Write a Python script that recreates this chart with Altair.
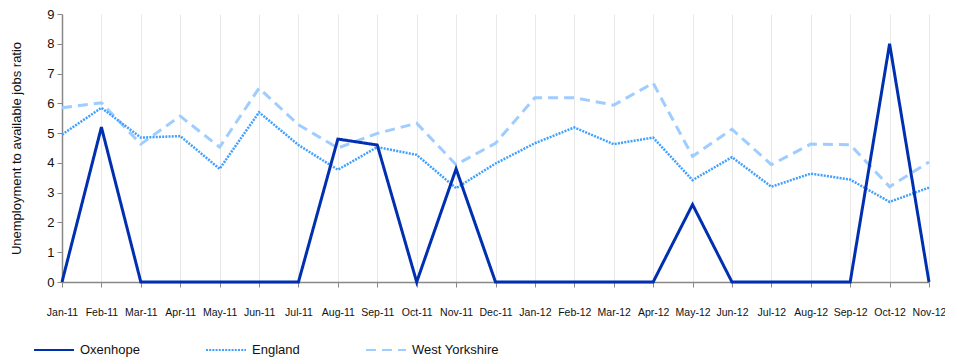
import altair as alt
import pandas as pd

months = ["Jan-11", "Feb-11", "Mar-11", "Apr-11", "May-11", "Jun-11", "Jul-11", "Aug-11",
          "Sep-11", "Oct-11", "Nov-11", "Dec-11", "Jan-12", "Feb-12", "Mar-12", "Apr-12",
          "May-12", "Jun-12", "Jul-12", "Aug-12", "Sep-12", "Oct-12", "Nov-12"]
oxenhope = [0, 5.2, 0, 0, 0, 0, 0, 4.8, 4.6, 0, 3.8, 0, 0, 0, 0, 0, 2.6, 0, 0, 0, 0, 8.0, 0]
england = [4.95, 5.85, 4.85, 4.9, 3.8, 5.7, 4.6, 3.77, 4.53, 4.27, 3.15, 3.98, 4.66, 5.19,
           4.63, 4.85, 3.42, 4.19, 3.2, 3.64, 3.44, 2.69, 3.17]
west_yorkshire = [5.85, 6.02, 4.63, 5.57, 4.53, 6.51, 5.28, 4.5, 4.99, 5.33, 3.94, 4.66, 6.19,
                  6.19, 5.94, 6.68, 4.22, 5.13, 3.94, 4.63, 4.61, 3.2, 4.03]

series_names = ["Oxenhope", "England", "West Yorkshire"]
series_colors = ["#0030b0", "#40a0ff", "#9fcdff"]
series_dash = [[1, 0], [2, 1.2], [10, 6]]
series_width = [3, 2.5, 3]

rows = []
for name, vals in zip(series_names, [oxenhope, england, west_yorkshire]):
    for m, v in zip(months, vals):
        rows.append({"Month": m, "Value": v, "Series": name})
df = pd.DataFrame(rows)

base = alt.Chart(df).encode(
    x=alt.X("Month:N", sort=months,
            scale=alt.Scale(type="point", padding=0),
            axis=alt.Axis(title=None, labelAngle=0, labelFontSize=10.5, labelOverlap=False,
                          labelPadding=20, tickSize=5, tickColor="#888888",
                          domainColor="#888888", domainWidth=1.5,
                          grid=True, gridColor="#e8e8e8", gridWidth=1,
                          labelColor="#111111", labelFont="Liberation Sans")),
    y=alt.Y("Value:Q", scale=alt.Scale(domain=[0, 9], nice=False),
            axis=alt.Axis(title="Unemployment to available jobs ratio", values=list(range(10)),
                          grid=False, tickSize=5, tickColor="#888888", domainColor="#888888",
                          domainWidth=1.5, labelFontSize=13, titleFontSize=13,
                          titleFontWeight="normal", titlePadding=23, labelPadding=3,
                          labelColor="#111111", titleColor="#111111",
                          labelFont="Liberation Sans", titleFont="Liberation Sans")),
    color=alt.Color("Series:N", sort=series_names,
                    scale=alt.Scale(domain=series_names, range=series_colors),
                    legend=alt.Legend(title=None, orient="none", legendX=-29, legendY=315,
                                      direction="horizontal", columns=3, gridAlign="each",
                                      columnPadding=62, symbolType="stroke", symbolSize=1600,
                                      symbolStrokeWidth=2, labelFontSize=13, labelOffset=5,
                                      labelFont="Liberation Sans", labelColor="#111111")),
    strokeDash=alt.StrokeDash("Series:N", sort=series_names,
                              scale=alt.Scale(domain=series_names, range=series_dash)),
)

layers = []
for name, w in zip(reversed(series_names), reversed(series_width)):
    layers.append(base.transform_filter(alt.datum.Series == name)
                  .mark_line(strokeWidth=w, strokeCap="butt", strokeJoin="miter"))

chart = alt.layer(*layers).properties(
    width=867, height=268,
    autosize=alt.AutoSizeParams(type="none"),
    padding={"left": 54, "top": 6, "right": 16, "bottom": 76},
).configure_view(stroke=None)

chart.save("out.html", embed_options={"renderer": "svg", "actions": False})
